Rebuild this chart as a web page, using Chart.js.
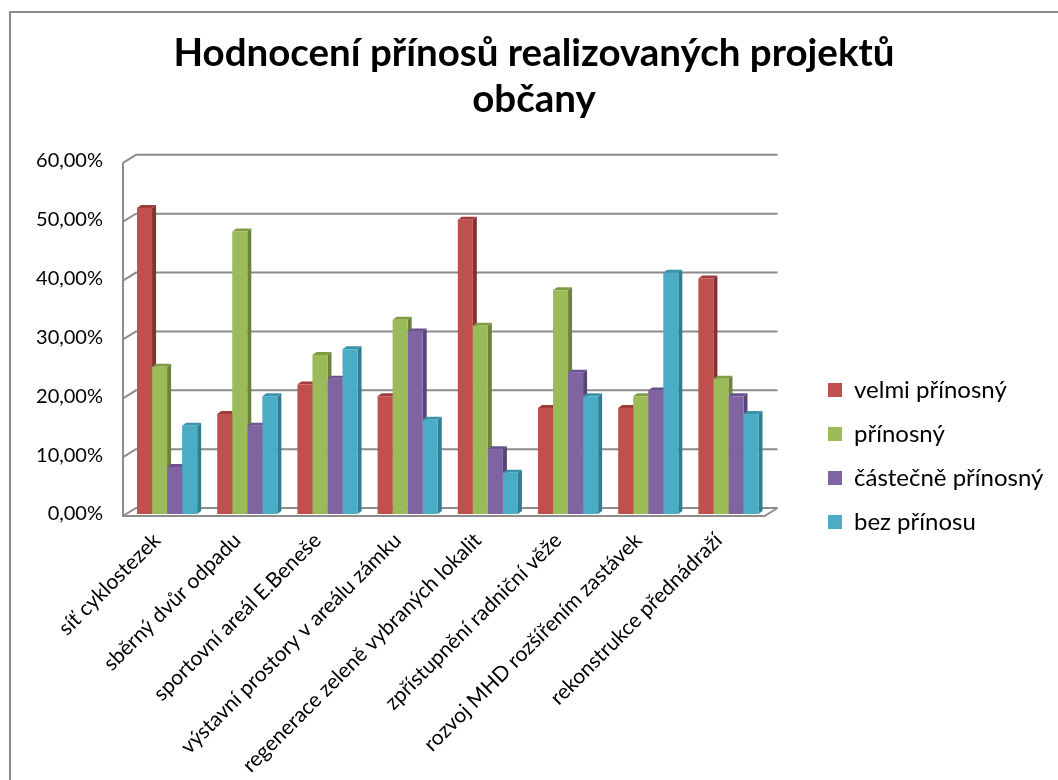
<!DOCTYPE html>
<html lang="cs">
<head>
  <meta charset="UTF-8">
  <title>Hodnocení přínosů realizovaných projektů občany</title>
  <style>
    body { margin: 0; background: #fff; }
    .frame { position: absolute; left: 9px; top: 11px; width: 1200px; height: 900px;
             border-left: 2px solid #8a8a8a; border-top: 2px solid #8a8a8a; }
    #chart { position: absolute; left: 0; top: 0; }
  </style>
</head>
<body>
  <div class="frame"></div>
  <canvas id="chart" width="1058" height="780"></canvas>

  <script src="https://cdn.jsdelivr.net/npm/chart.js"></script>
  <script>
    // data (percent)
    const categories = [
      'síť cyklostezek',
      'sběrný dvůr odpadu',
      'sportovní areál E.Beneše',
      'výstavní prostory v areálu zámku',
      'regenerace zeleně vybraných lokalit',
      'zpřístupnění radniční věže',
      'rozvoj MHD rozšířením zastávek',
      'rekonstrukce přednádraží'
    ];
    const velmiPrinosny = [52, 17, 22, 20, 50, 18, 18, 40];
    const prinosny      = [25, 48, 27, 33, 32, 38, 20, 23];
    const castecne      = [8, 15, 23, 31, 11, 24, 21, 20];
    const bezPrinosu    = [15, 20, 28, 16, 7, 20, 41, 17];
    const yTicks = [0, 10, 20, 30, 40, 50, 60];

    const FONT = 'Lato, "Liberation Sans", sans-serif';
    const frontCol = ['#c0504d', '#9bbb59', '#8064a2', '#4bacc6'];
    const sideCol  = ['#843230', '#6b8439', '#58447a', '#2f7f94'];
    const topCol   = ['#9e3d3a', '#7f9c45', '#6a5290', '#3b93ab'];

    // walls + gridlines drawn with a bit of depth
    const grid3d = {
      id: 'grid3d',
      afterLayout(chart) {
        // put the legend where the original has it
        const lg = chart.legend;
        const h = lg.bottom - lg.top, w = lg.right - lg.left;
        lg.top = 456 - h / 2; lg.bottom = lg.top + h;
        lg.left = 808; lg.right = lg.left + w;
      },
      beforeDatasetsDraw(chart) {
        const { ctx, chartArea: a, scales: { y } } = chart;
        const fx = -4, fy = 2, bx = 9, by = -6;
        ctx.save();
        ctx.strokeStyle = '#8c8c8c';
        ctx.lineWidth = 2;
        yTicks.forEach(v => {
          const py = y.getPixelForValue(v);
          ctx.beginPath();
          ctx.moveTo(a.left + fx, py + fy);
          ctx.lineTo(a.left + bx, py + by);
          ctx.lineTo(a.right + bx, py + by);
          ctx.stroke();
        });
        ctx.beginPath();
        ctx.moveTo(a.left + fx, y.getPixelForValue(60) + fy);
        ctx.lineTo(a.left + fx, a.bottom + fy);
        ctx.lineTo(a.right + fx, a.bottom + fy);
        ctx.lineTo(a.right + bx, a.bottom + by);
        ctx.stroke();

        // side and top faces of the bars (fronts come from Chart.js)
        const d = 4, t = 3;
        chart.data.datasets.forEach((ds, i) => {
          chart.getDatasetMeta(i).data.forEach(bar => {
            const { x, y: yy, base, width } = bar.getProps(['x', 'y', 'base', 'width'], true);
            const l = x - width / 2, r = x + width / 2;
            ctx.fillStyle = sideCol[i];
            ctx.beginPath();
            ctx.moveTo(r, yy); ctx.lineTo(r + d, yy - t);
            ctx.lineTo(r + d, base - t); ctx.lineTo(r, base);
            ctx.closePath(); ctx.fill();
            ctx.fillStyle = topCol[i];
            ctx.beginPath();
            ctx.moveTo(l, yy); ctx.lineTo(l + d, yy - t);
            ctx.lineTo(r + d, yy - t); ctx.lineTo(r, yy);
            ctx.closePath(); ctx.fill();
          });
        });
        ctx.restore();
      }
    };

    const mk = (label, data, i) => ({
      label, data,
      backgroundColor: frontCol[i],
      borderWidth: 0,
      barPercentage: 1,
      categoryPercentage: 0.75
    });

    new Chart(document.getElementById('chart').getContext('2d'), {
      type: 'bar',
      data: {
        labels: categories,
        datasets: [
          mk('velmi přínosný', velmiPrinosny, 0),
          mk('přínosný', prinosny, 1),
          mk('částečně přínosný', castecne, 2),
          mk('bez přínosu', bezPrinosu, 3)
        ]
      },
      options: {
        responsive: false,
        animation: false,
        layout: { padding: { left: 10, right: 0, top: 0, bottom: 0 } },
        plugins: {
          tooltip: { enabled: false },
          title: {
            display: true,
            text: ['Hodnocení přínosů realizovaných projektů', 'občany'],
            color: '#000',
            font: { family: FONT, size: 38.5, weight: 'bold', lineHeight: 1.18 },
            padding: { top: 31, bottom: 39 }
          },
          legend: {
            position: 'right',
            maxWidth: 400,
            labels: {
              color: '#000',
              font: { family: FONT, size: 24 },
              boxWidth: 14,
              boxHeight: 14,
              padding: 20
            }
          }
        },
        scales: {
          x: {
            grid: { display: false, drawTicks: false },
            border: { display: false },
            ticks: {
              color: '#000',
              font: { family: FONT, size: 21 },
              minRotation: 45,
              maxRotation: 45,
              padding: 14,
              labelOffset: -10
            },
            afterFit: s => { s.height = 266; }
          },
          y: {
            min: 0,
            max: 60,
            grid: { display: false, drawTicks: false },
            border: { display: false },
            ticks: {
              stepSize: 10,
              color: '#000',
              font: { family: FONT, size: 20 },
              padding: 24,
              callback: v => v.toFixed(2).replace('.', ',') + '%'
            },
            afterFit: s => { s.width = 117; }
          },
          gap: {
            type: 'linear',
            position: 'right',
            display: true,
            grid: { display: false, drawTicks: false },
            border: { display: false },
            ticks: { display: false },
            afterFit: s => { s.width = 44; }
          }
        }
      },
      plugins: [grid3d]
    });
  </script>
</body>
</html>
